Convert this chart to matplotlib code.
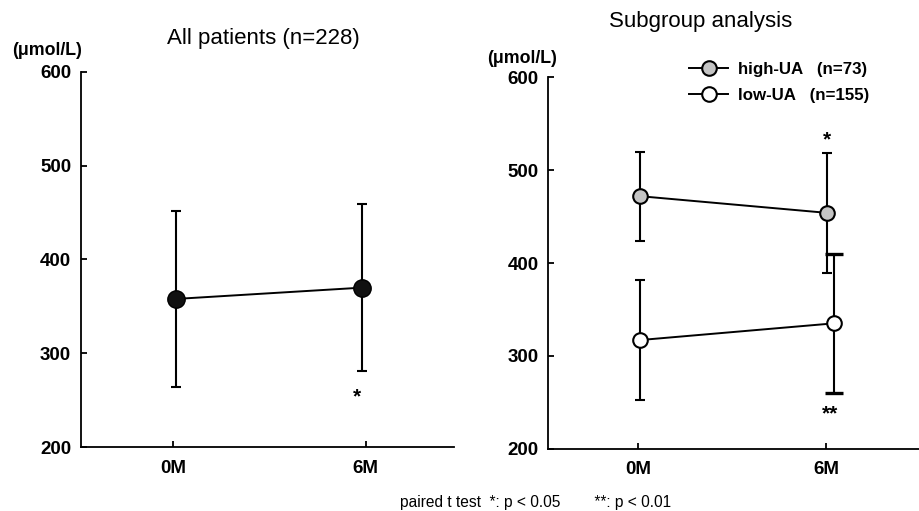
import matplotlib
matplotlib.use("Agg")
import matplotlib.pyplot as plt

plt.rcParams["font.family"] = ["Liberation Sans", "DejaVu Sans"]

# data (umol/L, mean and SD)
timepoints = ["0M", "6M"]
all_mean = [358, 370]
all_sd = [94, 89]

high_mean = [472, 454]
high_sd = [48, 65]
low_mean = [317, 335]
low_sd = [65, 75]

yticks = [200, 300, 400, 500, 600]

fig = plt.figure(figsize=(9.2, 5.11), dpi=100)


def style_axes(ax, xmax):
    ax.set_ylim(200, 600)
    ax.set_xlim(-0.48, xmax)
    ax.set_yticks(yticks)
    ax.set_xticks([0, 1])
    ax.set_xticklabels(timepoints)
    for s in ["top", "right"]:
        ax.spines[s].set_visible(False)
    for s in ["left", "bottom"]:
        ax.spines[s].set_linewidth(1.3)
    ax.tick_params(axis="both", direction="in", length=4, width=1.3,
                   labelsize=13.5)
    ax.tick_params(axis="y", pad=7)
    ax.tick_params(axis="x", pad=9)
    for lab in ax.get_xticklabels() + ax.get_yticklabels():
        lab.set_fontweight("bold")


# left panel: all patients
ax1 = fig.add_axes([0.088, 0.1247, 0.4055, 0.735])
style_axes(ax1, 1.46)
x1 = [0.015, 0.98]
ax1.errorbar(x1, all_mean, yerr=all_sd, fmt="none", ecolor="black",
             elinewidth=1.5, capsize=3.6, capthick=1.5, zorder=2)
ax1.plot(x1, all_mean, color="black", lw=1.4, marker="o", markersize=12.5,
         markerfacecolor="#111111", markeredgecolor="black", zorder=3)
ax1.text(0.955, all_mean[1] - all_sd[1] - 27, "*", ha="center", va="center",
         fontsize=15, fontweight="bold")
ax1.set_title("All patients (n=228)", fontsize=16, pad=20, x=0.49)
fig.text(0.013, 0.902, "(\u03bcmol/L)", fontsize=12.8, fontweight="bold",
         ha="left", va="center")

# right panel: subgroup analysis
ax2 = fig.add_axes([0.596, 0.1219, 0.404, 0.7268])
style_axes(ax2, 1.5)
xh = [0.007, 1.005]
xl = [0.007, 1.04]
ax2.errorbar(xh, high_mean, yerr=high_sd, fmt="none", ecolor="black",
             elinewidth=1.5, capsize=3.6, capthick=1.5, zorder=2)
ax2.errorbar(xl[:1], low_mean[:1], yerr=low_sd[:1], fmt="none",
             ecolor="black", elinewidth=1.5, capsize=3.6, capthick=1.5,
             zorder=2)
ax2.errorbar(xl[1:], low_mean[1:], yerr=low_sd[1:], fmt="none",
             ecolor="black", elinewidth=1.5, capsize=6.5, capthick=2.4,
             zorder=2)
h_high, = ax2.plot(xh, high_mean, color="black", lw=1.4, marker="o",
                   markersize=10.5, markerfacecolor="#c4c4c4",
                   markeredgecolor="black", markeredgewidth=1.5, zorder=3,
                   label="high-UA   (n=73)")
h_low, = ax2.plot(xl, low_mean, color="black", lw=1.4, marker="o",
                  markersize=10.5, markerfacecolor="white",
                  markeredgecolor="black", markeredgewidth=1.5, zorder=3,
                  label="low-UA   (n=155)")
ax2.text(1.005, high_mean[1] + high_sd[1] + 14, "*", ha="center",
         va="center", fontsize=15, fontweight="bold")
ax2.text(1.02, low_mean[1] - low_sd[1] - 22, "**", ha="center",
         va="center", fontsize=15, fontweight="bold")
ax2.set_title("Subgroup analysis", fontsize=16, pad=36, x=0.41)
fig.text(0.529, 0.886, "(\u03bcmol/L)", fontsize=12.8, fontweight="bold",
         ha="left", va="center")
ax2.legend(handles=[h_high, h_low], loc="upper left",
           bbox_to_anchor=(0.749, 0.878), bbox_transform=fig.transFigure,
           frameon=False, handlelength=2.3, handletextpad=0.6,
           labelspacing=0.65, borderpad=0, borderaxespad=0,
           prop={"weight": "bold", "size": 12.2})

fig.text(0.435, 0.017, "paired t test  *: p < 0.05        **: p < 0.01",
         fontsize=11.2, ha="left", va="center")

fig.savefig("out.png", dpi=100)
